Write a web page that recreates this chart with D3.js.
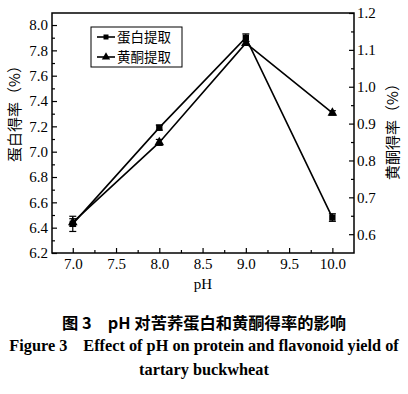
<!DOCTYPE html>
<html><head><meta charset="utf-8">
<script src="https://cdn.jsdelivr.net/npm/d3@7"></script>
<style>body{margin:0;background:#fff}svg{display:block}</style>
</head><body>
<script>
const phValues = [7.0, 8.0, 9.0, 10.0];
const proteinYield = [6.43, 7.19, 7.90, 6.48];
const proteinErr = [0.06, 0.02, 0.03, 0.03];
const flavonoidYield = [0.632, 0.849, 1.118, 0.929];
const flavonoidErr = [0.01, 0.008, 0.005, 0.006];
const xTicks = [7.0, 7.5, 8.0, 8.5, 9.0, 9.5, 10.0];
const leftTicks = [6.2, 6.4, 6.6, 6.8, 7.0, 7.2, 7.4, 7.6, 7.8, 8.0];
const rightTicks = [0.6, 0.7, 0.8, 0.9, 1.0, 1.1, 1.2];
const legendLabels = ["蛋白提取", "黄酮提取"];
const captionLines = ["图 3　pH 对苦荞蛋白和黄酮得率的影响", "Figure 3　Effect of pH on protein and flavonoid yield of", "tartary buckwheat"];

const W = 408, H = 394;
const m = {l: 52, r: 354, t: 13, b: 253};
const svg = d3.select("body").append("svg").attr("width", W).attr("height", H);
const serif = "'Liberation Serif','Times New Roman',serif";
const cjk = "'Noto Sans CJK SC',sans-serif";

const x = d3.scaleLinear().domain([6.76, 10.25]).range([m.l, m.r]);
const yL = d3.scaleLinear().domain([6.2, 8.095]).range([m.b, m.t]);
const yR = d3.scaleLinear().domain([0.549, 1.2]).range([m.b, m.t]);

svg.append("rect").attr("x", m.l).attr("y", m.t).attr("width", m.r - m.l).attr("height", m.b - m.t)
  .attr("fill", "none").attr("stroke", "#000").attr("stroke-width", 1.5);

function styleAxis(g){
  g.select(".domain").remove();
  g.selectAll("line").attr("stroke", "#000").attr("stroke-width", 1.2);
  g.selectAll("text").attr("font-family", serif).attr("font-size", 15).attr("fill", "#000");
}
function mids(arr){ const r=[]; for(let i=0;i<arr.length-1;i++) r.push((arr[i]+arr[i+1])/2); return r; }

svg.append("g").attr("transform", `translate(0,${m.b})`)
  .call(d3.axisBottom(x).tickValues(xTicks).tickFormat(d3.format(".1f")).tickSizeInner(-5).tickSizeOuter(0).tickPadding(5))
  .call(styleAxis);
svg.append("g").attr("transform", `translate(0,${m.b})`)
  .call(d3.axisBottom(x).tickValues(mids(xTicks)).tickFormat("").tickSizeInner(-3).tickSizeOuter(0))
  .call(styleAxis);

svg.append("g").attr("transform", `translate(${m.l},0)`)
  .call(d3.axisLeft(yL).tickValues(leftTicks).tickFormat(d3.format(".1f")).tickSizeInner(-5).tickSizeOuter(0).tickPadding(4))
  .call(styleAxis);
svg.append("g").attr("transform", `translate(${m.l},0)`)
  .call(d3.axisLeft(yL).tickValues(mids(leftTicks)).tickFormat("").tickSizeInner(-3).tickSizeOuter(0))
  .call(styleAxis);

svg.append("g").attr("transform", `translate(${m.r},0)`)
  .call(d3.axisRight(yR).tickValues(rightTicks).tickFormat(d3.format(".1f")).tickSizeInner(-5).tickSizeOuter(0).tickPadding(3))
  .call(styleAxis);
svg.append("g").attr("transform", `translate(${m.r},0)`)
  .call(d3.axisRight(yR).tickValues(mids(rightTicks)).tickFormat("").tickSizeInner(-3).tickSizeOuter(0))
  .call(styleAxis);

svg.append("text").attr("transform", `translate(20,110) rotate(-90)`)
  .attr("text-anchor", "middle").attr("font-family", cjk).attr("font-size", 15).text("蛋白得率（%）");
svg.append("text").attr("transform", `translate(398,128) rotate(-90)`)
  .attr("text-anchor", "middle").attr("font-family", cjk).attr("font-size", 15).text("黄酮得率（%）");
svg.append("text").attr("x", 203).attr("y", 289).attr("text-anchor", "middle")
  .attr("font-family", serif).attr("font-size", 15).text("pH");

const lineL = d3.line().x((d,i)=>x(phValues[i])).y(d=>yL(d));
const lineR = d3.line().x((d,i)=>x(phValues[i])).y(d=>yR(d));
svg.append("path").attr("d", lineL(proteinYield)).attr("fill","none").attr("stroke","#000").attr("stroke-width",1.6);
svg.append("path").attr("d", lineR(flavonoidYield)).attr("fill","none").attr("stroke","#000").attr("stroke-width",1.6);

function errBars(vals, errs, y){
  vals.forEach((v,i)=>{
    const cx = x(phValues[i]);
    const y1 = y(v+errs[i]), y2 = y(v-errs[i]);
    const g = svg.append("g").attr("stroke","#000").attr("stroke-width",1.2);
    g.append("line").attr("x1",cx).attr("x2",cx).attr("y1",y1).attr("y2",y2);
    g.append("line").attr("x1",cx-3.5).attr("x2",cx+3.5).attr("y1",y1).attr("y2",y1);
    g.append("line").attr("x1",cx-3.5).attr("x2",cx+3.5).attr("y1",y2).attr("y2",y2);
  });
}
errBars(proteinYield, proteinErr, yL);
errBars(flavonoidYield, flavonoidErr, yR);

const sq = d3.symbol().type(d3.symbolSquare).size(40);
const tri = d3.symbol().type(d3.symbolTriangle).size(40);
svg.selectAll(".sq").data(proteinYield).join("path")
  .attr("transform",(d,i)=>`translate(${x(phValues[i])},${yL(d)})`).attr("d", sq()).attr("fill","#000");
svg.selectAll(".tri").data(flavonoidYield).join("path")
  .attr("transform",(d,i)=>`translate(${x(phValues[i])},${yR(d)})`).attr("d", tri()).attr("fill","#000");

const lg = svg.append("g");
lg.append("rect").attr("x",91).attr("y",27).attr("width",91).attr("height",40)
  .attr("fill","#fff").attr("stroke","#000").attr("stroke-width",1);
[0,1].forEach(i=>{
  const yy = 37 + i*20;
  lg.append("line").attr("x1",97).attr("x2",115).attr("y1",yy).attr("y2",yy).attr("stroke","#000").attr("stroke-width",1.6);
  lg.append("path").attr("transform",`translate(106,${yy})`).attr("d", (i===0?d3.symbol().type(d3.symbolSquare).size(25):d3.symbol().type(d3.symbolTriangle).size(30))()).attr("fill","#000");
  lg.append("text").attr("x",117).attr("y",yy+4.5).attr("font-family",cjk).attr("font-size",13.5).text(legendLabels[i]);
});

const capY = [329, 351, 375];
captionLines.forEach((t,i)=>{
  svg.append("text").attr("x", 204).attr("y", capY[i]).attr("text-anchor","middle")
    .attr("font-family", i===0 ? "'Noto Sans CJK SC',serif" : serif)
    .attr("font-weight","bold").attr("font-size", 16.3).style("white-space","pre").text(t);
});
</script>
</body></html>
